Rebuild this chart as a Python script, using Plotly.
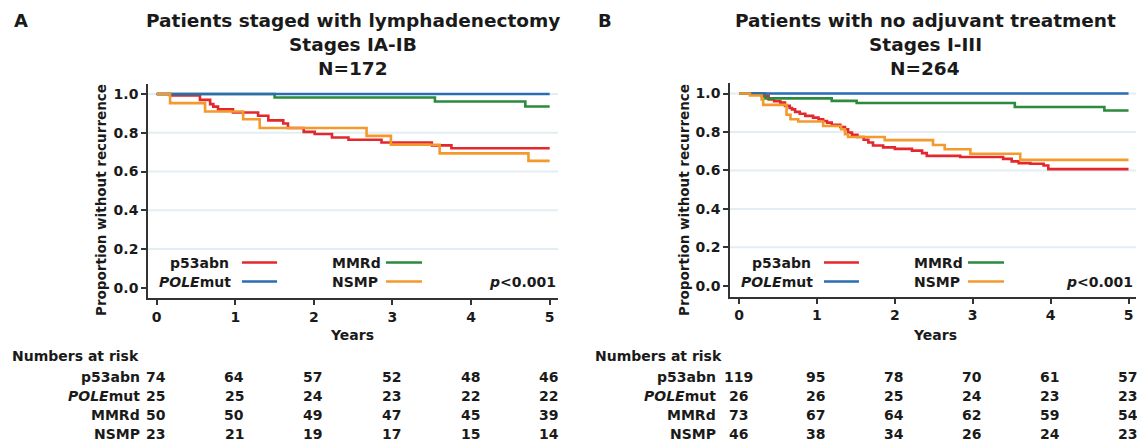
import plotly.graph_objects as go

W, H = 1137, 444
FONT = "DejaVu Sans"

RED = "#e3272d"
BLUE = "#2a6db5"
GREEN = "#2b8a3e"
ORANGE = "#f4992c"
GRID = "#e3eef2"
AX = "#333333"
TXT = "#1a1a1a"

year_ticks = [0, 1, 2, 3, 4, 5]
prop_ticks = [0.0, 0.2, 0.4, 0.6, 0.8, 1.0]
prop_labels = ["0.0", "0.2", "0.4", "0.6", "0.8", "1.0"]
grid_values = [0.2, 0.4, 0.6, 0.8, 1.0]

# Panel A: Patients staged with lymphadenectomy, Stages IA-IB
a_p53_t = [0, 0.17, 0.55, 0.68, 0.72, 0.78, 0.97, 1.29, 1.42, 1.61, 1.67, 1.87, 2.01, 2.23, 2.44, 2.86, 3.5, 3.75, 5.0]
a_p53_s = [1.0, 0.993, 0.97, 0.948, 0.935, 0.921, 0.905, 0.888, 0.864, 0.848, 0.825, 0.805, 0.794, 0.776, 0.764, 0.75, 0.735, 0.72, 0.72]
a_pole_t = [0, 5.0]
a_pole_s = [1.0, 1.0]
a_mmrd_t = [0, 1.5, 3.54, 4.69, 5.0]
a_mmrd_s = [1.0, 0.982, 0.962, 0.936, 0.936]
a_nsmp_t = [0, 0.17, 0.615, 1.10, 1.31, 2.67, 2.98, 3.6, 4.73, 5.0]
a_nsmp_s = [1.0, 0.953, 0.91, 0.87, 0.825, 0.784, 0.738, 0.694, 0.655, 0.655]

# Panel B: Patients with no adjuvant treatment, Stages I-III
b_p53_t = [0, 0.25, 0.29, 0.38, 0.45, 0.53, 0.59, 0.65, 0.68, 0.72, 0.78, 0.85, 0.95, 1.02, 1.08, 1.13, 1.19, 1.30, 1.36, 1.40,
           1.45, 1.52, 1.6, 1.66, 1.72, 1.85, 2.0, 2.22, 2.35, 2.41, 2.84, 3.39, 3.5, 3.59, 3.74, 3.91, 3.97, 5.0]
b_p53_s = [1.0, 0.995, 0.988, 0.97, 0.96, 0.953, 0.936, 0.925, 0.918, 0.905, 0.895, 0.884, 0.875, 0.866, 0.857, 0.849, 0.837, 0.826, 0.814, 0.797,
           0.785, 0.774, 0.76, 0.745, 0.73, 0.72, 0.712, 0.703, 0.69, 0.676, 0.67, 0.66, 0.647, 0.638, 0.635, 0.626, 0.607, 0.607]
b_pole_t = [0, 5.0]
b_pole_s = [1.0, 1.0]
b_mmrd_t = [0, 0.33, 1.19, 1.51, 3.54, 4.69, 5.0]
b_mmrd_s = [1.0, 0.975, 0.962, 0.951, 0.93, 0.912, 0.912]
b_nsmp_t = [0, 0.14, 0.29, 0.31, 0.61, 0.66, 0.76, 1.08, 1.31, 1.36, 1.40, 1.87, 2.49, 2.64, 2.97, 3.61, 5.0]
b_nsmp_s = [1.0, 0.99, 0.97, 0.941, 0.89, 0.866, 0.855, 0.831, 0.814, 0.788, 0.774, 0.758, 0.732, 0.71, 0.687, 0.655, 0.655]

# Numbers at risk
risk_labels = ["p53abn", "<i>POLE</i>mut", "MMRd", "NSMP"]
risk_a_p53 = [74, 64, 57, 52, 48, 46]
risk_a_pole = [25, 25, 24, 23, 22, 22]
risk_a_mmrd = [50, 50, 49, 47, 45, 39]
risk_a_nsmp = [23, 21, 19, 17, 15, 14]
risk_b_p53 = [119, 95, 78, 70, 61, 57]
risk_b_pole = [26, 26, 25, 24, 23, 23]
risk_b_mmrd = [73, 67, 64, 62, 59, 54]
risk_b_nsmp = [46, 38, 34, 26, 24, 23]

fig = go.Figure()

def add_curve(t, s, color, xa, ya):
    fig.add_trace(go.Scatter(x=t, y=s, mode="lines", line=dict(color=color, width=2.6, shape="hv"),
                             xaxis=xa, yaxis=ya, hoverinfo="skip"))

for xa, ya, series in [
    ("x", "y", [(a_p53_t, a_p53_s, RED), (a_mmrd_t, a_mmrd_s, GREEN), (a_pole_t, a_pole_s, BLUE), (a_nsmp_t, a_nsmp_s, ORANGE)]),
    ("x2", "y2", [(b_p53_t, b_p53_s, RED), (b_mmrd_t, b_mmrd_s, GREEN), (b_pole_t, b_pole_s, BLUE), (b_nsmp_t, b_nsmp_s, ORANGE)]),
]:
    for t, s, c in series:
        add_curve(t, s, c, xa, ya)

def px_x(x):
    return x / W

def px_y(y):
    return 1 - y / H

axis_common = dict(showline=True, linecolor=AX, linewidth=1.6, ticks="outside", ticklen=5, tickwidth=1.6,
                   tickcolor=AX, tickfont=dict(family=FONT, size=14, color=TXT, weight="bold"), zeroline=False,
                   fixedrange=True, showgrid=False)

fig.update_layout(
    width=W, height=H, margin=dict(l=0, r=0, t=0, b=0), showlegend=False,
    paper_bgcolor="white", plot_bgcolor="white",
    font=dict(family=FONT, color=TXT),
    xaxis=dict(domain=[px_x(148), px_x(558)], range=[-0.111, 5.106], tickvals=year_ticks,
               anchor="y", **axis_common),
    yaxis=dict(domain=[px_y(298), px_y(84)], range=[-0.053, 1.052], tickvals=prop_ticks, ticktext=prop_labels,
               anchor="x", **axis_common),
    xaxis2=dict(domain=[px_x(730), px_x(1136)], range=[-0.116, 5.096], tickvals=year_ticks,
                anchor="y2", **axis_common),
    yaxis2=dict(domain=[px_y(296.7), px_y(83)], range=[-0.057, 1.055], tickvals=prop_ticks, ticktext=prop_labels,
                anchor="x2", **axis_common),
)

annotations = []
shapes = []

# light horizontal gridlines (none at 0.0)
for xr, yr in [("x", "y"), ("x2", "y2")]:
    for g in grid_values:
        shapes.append(dict(type="line", xref="%s domain" % xr, yref=yr, x0=0, x1=1, y0=g, y1=g,
                           line=dict(color=GRID, width=2), layer="below"))

def ann(text, x, y, size, xanchor="center", angle=0):
    annotations.append(dict(text=text, x=px_x(x), y=px_y(y), xref="paper", yref="paper",
                            xanchor=xanchor, yanchor="middle", showarrow=False, textangle=angle,
                            font=dict(family=FONT, size=size, color=TXT)))

# Panel letters and titles
ann("<b>A</b>", 12, 21, 18, "left")
ann("<b>B</b>", 596, 21, 18, "left")
for i, line in enumerate(["Patients staged with lymphadenectomy", "Stages IA-IB", "N=172"]):
    ann("<b>%s</b>" % line, 353, 21 + i * 23.5, 18.5)
for i, line in enumerate(["Patients with no adjuvant treatment", "Stages I-III", "N=264"]):
    ann("<b>%s</b>" % line, 925, 21 + i * 23.5, 18.5)

# Axis titles
ann("<b>Proportion without recurrence</b>", 101, 200, 13.5, angle=-90)
ann("<b>Proportion without recurrence</b>", 684, 200, 13.5, angle=-90)
ann("<b>Years</b>", 352, 335, 14)
ann("<b>Years</b>", 935, 335, 14)

# In-plot legends
for ox in [0, 582]:
    ann("<b>p53abn</b>", 231 + ox, 262.5, 14, "right")
    ann("<b><i>POLE</i>mut</b>", 233 + ox, 281.5, 14, "right")
    ann("<b>MMRd</b>", 330 + ox, 262.5, 14, "left")
    ann("<b>NSMP</b>", 330 + ox, 281.5, 14, "left")
    for (x0, x1, y, c) in [(242, 277, 262.5, RED), (242, 277, 281.5, BLUE), (386, 422, 262.5, GREEN), (386, 422, 281.5, ORANGE)]:
        shapes.append(dict(type="line", xref="paper", yref="paper", x0=px_x(x0 + ox), x1=px_x(x1 + ox),
                           y0=px_y(y), y1=px_y(y), line=dict(color=c, width=2.6)))
ann("<b><i>p</i>&lt;0.001</b>", 558, 281.5, 14, "right")
ann("<b><i>p</i>&lt;0.001</b>", 1135, 281.5, 14, "right")

# Numbers at risk tables
row_y = [376.5, 395.5, 414.5, 433.5]
ann("<b>Numbers at risk</b>", 10, 355.5, 14, "left")
ann("<b>Numbers at risk</b>", 593, 355.5, 14, "left")
for xref, label_x, rows in [("x", 142, [risk_a_p53, risk_a_pole, risk_a_mmrd, risk_a_nsmp]),
                            ("x2", 718, [risk_b_p53, risk_b_pole, risk_b_mmrd, risk_b_nsmp])]:
    for lab, vals, y in zip(risk_labels, rows, row_y):
        ann("<b>%s</b>" % lab, label_x, y, 14, "right")
        for yr, v in zip(year_ticks, vals):
            annotations.append(dict(text="<b>%d</b>" % v, x=yr, y=px_y(y), xref=xref, yref="paper",
                                    xanchor="center", yanchor="middle", showarrow=False, xshift=-1,
                                    font=dict(family=FONT, size=14, color=TXT)))

fig.update_layout(annotations=annotations, shapes=shapes)
fig.write_html("out.html", config={"displayModeBar": False},
               post_script="document.body.style.margin='0';document.body.style.overflow='hidden';")
